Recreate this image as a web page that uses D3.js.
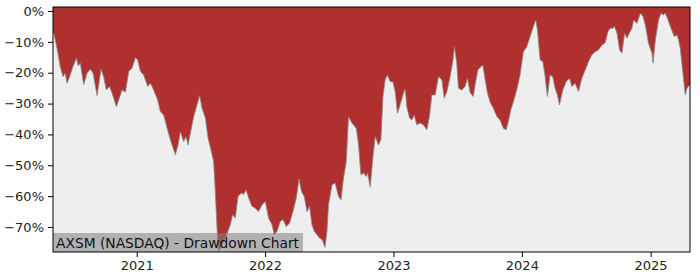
<!DOCTYPE html>
<html>
<head>
<meta charset="utf-8">
<script src="https://cdn.jsdelivr.net/npm/d3@7"></script>
<style>
  body { margin: 0; background: #fff; }
  svg text { font-family: "DejaVu Sans", sans-serif; }
</style>
</head>
<body>
<div id="chart"></div>
<script>
// drawdown readings (decimal year, percent below peak)
var years = [2020.356, 2020.381, 2020.406, 2020.427, 2020.445, 2020.458, 2020.479, 2020.505, 2020.531, 2020.546,
  2020.562, 2020.588, 2020.614, 2020.640, 2020.661, 2020.692, 2020.723, 2020.743, 2020.764, 2020.790,
  2020.817, 2020.842, 2020.860, 2020.886, 2020.912, 2020.938, 2020.964, 2020.990, 2021.008, 2021.029,
  2021.054, 2021.086, 2021.107, 2021.132, 2021.163, 2021.184, 2021.210, 2021.237, 2021.262, 2021.301,
  2021.322, 2021.340, 2021.366, 2021.384, 2021.400, 2021.418, 2021.444, 2021.470, 2021.490, 2021.509,
  2021.535, 2021.556, 2021.581, 2021.599, 2021.612, 2021.628, 2021.638, 2021.665, 2021.690, 2021.729,
  2021.747, 2021.768, 2021.789, 2021.815, 2021.833, 2021.851, 2021.872, 2021.898, 2021.924, 2021.949,
  2021.976, 2022.002, 2022.027, 2022.054, 2022.072, 2022.093, 2022.118, 2022.139, 2022.165, 2022.191,
  2022.217, 2022.243, 2022.264, 2022.284, 2022.305, 2022.326, 2022.346, 2022.365, 2022.383, 2022.404,
  2022.424, 2022.445, 2022.466, 2022.482, 2022.494, 2022.521, 2022.546, 2022.572, 2022.591, 2022.611,
  2022.632, 2022.650, 2022.676, 2022.710, 2022.728, 2022.746, 2022.767, 2022.788, 2022.798, 2022.819,
  2022.840, 2022.858, 2022.883, 2022.902, 2022.918, 2022.935, 2022.953, 2022.974, 2022.995, 2023.013,
  2023.031, 2023.052, 2023.078, 2023.091, 2023.104, 2023.125, 2023.143, 2023.161, 2023.182, 2023.208,
  2023.233, 2023.260, 2023.280, 2023.299, 2023.325, 2023.350, 2023.377, 2023.395, 2023.416, 2023.441,
  2023.462, 2023.475, 2023.493, 2023.506, 2023.532, 2023.558, 2023.576, 2023.597, 2023.621, 2023.636,
  2023.657, 2023.680, 2023.696, 2023.714, 2023.732, 2023.753, 2023.778, 2023.805, 2023.830, 2023.856,
  2023.877, 2023.895, 2023.914, 2023.934, 2023.960, 2023.986, 2024.012, 2024.038, 2024.064, 2024.089,
  2024.108, 2024.121, 2024.142, 2024.163, 2024.181, 2024.198, 2024.219, 2024.240, 2024.258, 2024.276,
  2024.292, 2024.318, 2024.344, 2024.370, 2024.388, 2024.414, 2024.440, 2024.466, 2024.492, 2024.518,
  2024.544, 2024.570, 2024.595, 2024.622, 2024.647, 2024.668, 2024.686, 2024.707, 2024.718, 2024.739,
  2024.759, 2024.777, 2024.798, 2024.816, 2024.834, 2024.855, 2024.868, 2024.894, 2024.920, 2024.941,
  2024.959, 2024.984, 2025.011, 2025.019, 2025.037, 2025.062, 2025.081, 2025.097, 2025.114, 2025.132,
  2025.159, 2025.184, 2025.205, 2025.218, 2025.231, 2025.252, 2025.270, 2025.283, 2025.305];

var drawdown = [-7.1, -12.1, -18.0, -21.3, -20.1, -23.4, -21.3, -18.0, -15.3, -17.7,
  -16.9, -23.9, -20.2, -18.8, -20.2, -27.4, -18.8, -21.3, -25.6, -24.5,
  -27.7, -31.0, -28.8, -25.6, -26.3, -19.6, -18.5, -15.1, -15.9, -19.6,
  -20.7, -24.5, -23.4, -25.6, -28.8, -32.6, -33.7, -38.0, -41.7, -46.6,
  -43.4, -39.1, -42.3, -40.7, -43.4, -39.6, -34.2, -30.4, -27.4, -31.5,
  -34.7, -41.2, -45.5, -48.8, -58.5, -72.5, -77.9, -75.7, -73.6, -69.3,
  -66.0, -67.1, -60.1, -59.0, -59.5, -57.9, -60.6, -63.3, -63.9, -65.0,
  -62.8, -61.7, -67.1, -69.3, -72.5, -71.4, -68.2, -67.6, -69.8, -68.7,
  -65.0, -60.6, -54.4, -58.5, -60.1, -65.0, -63.3, -69.3, -71.4, -72.5,
  -73.6, -74.1, -76.6, -71.4, -62.8, -56.3, -55.8, -60.1, -61.2, -54.1,
  -48.8, -34.2, -36.3, -38.0, -43.4, -53.1, -52.5, -53.6, -52.5, -57.1,
  -47.2, -40.7, -43.4, -41.7, -27.7, -22.3, -20.7, -22.9, -22.9, -26.1,
  -33.1, -30.4, -26.6, -25.3, -31.0, -34.7, -35.3, -33.7, -36.9, -36.3,
  -36.9, -38.5, -34.2, -27.2, -27.2, -21.3, -22.3, -28.3, -26.1, -21.3,
  -16.4, -11.6, -16.9, -25.0, -25.6, -24.4, -21.8, -26.4, -27.7, -23.9,
  -19.1, -18.1, -17.5, -22.3, -26.6, -29.6, -31.5, -34.2, -35.3, -38.0,
  -38.5, -35.8, -32.0, -29.4, -25.6, -20.7, -13.2, -11.6, -8.3, -5.1,
  -2.9, -6.1, -15.9, -16.4, -21.3, -27.7, -20.7, -21.3, -25.0, -27.2,
  -30.4, -25.6, -22.9, -21.8, -24.5, -23.4, -26.1, -21.8, -19.1, -16.4,
  -14.2, -13.2, -12.6, -11.0, -10.3, -6.7, -5.6, -5.6, -4.9, -7.2,
  -12.6, -13.7, -7.2, -8.8, -7.2, -5.6, -2.9, -4.0, -0.7, -1.8,
  -4.5, -10.5, -13.7, -16.9, -9.4, -2.9, -0.7, -1.3, -0.7, -2.4,
  -5.6, -8.3, -7.8, -9.4, -12.1, -20.2, -27.2, -25.0, -23.9];

var yTicks = [0, -10, -20, -30, -40, -50, -60, -70];
var xTickYears = [2021, 2022, 2023, 2024, 2025];
var title = "AXSM (NASDAQ) - Drawdown Chart";

function yearToDate(y) {
  var yr = Math.floor(y);
  var start = Date.UTC(yr, 0, 1), end = Date.UTC(yr + 1, 0, 1);
  return new Date(start + (y - yr) * (end - start));
}

var data = years.map(function(y, i) { return {date: yearToDate(y), value: drawdown[i]}; });

var margin = {top: 7, right: 10, bottom: 28, left: 53},
    width = 690 - margin.left,
    height = 252 - margin.top;

var svg = d3.select("#chart")
  .append("svg")
    .attr("width", 700)
    .attr("height", 280)
  .append("g")
    .attr("transform", "translate(" + margin.left + "," + margin.top + ")");

var x = d3.scaleUtc()
    .domain([new Date(Date.UTC(2020, 4, 8)), new Date(Date.UTC(2025, 3, 23))])
    .range([0, width]);

var y = d3.scaleLinear()
    .domain([-78.1, 1.3])
    .range([height, 0]);

// background is the "below the curve" colour, the red fills from the top down to the curve
svg.append("rect")
    .attr("width", width)
    .attr("height", height)
    .style("fill", "#eeeeee");

var area = d3.area()
    .x(function(d) { return x(d.date); })
    .y0(0)
    .y1(function(d) { return y(d.value); });

svg.append("path")
    .datum([{date: x.domain()[0], value: drawdown[0]}].concat(data, [{date: x.domain()[1], value: drawdown[drawdown.length - 1]}]))
    .attr("d", area)
    .style("fill", "#b03030");

svg.append("path")
    .datum(data)
    .attr("d", d3.line().x(function(d) { return x(d.date); }).y(function(d) { return y(d.value); }))
    .style("fill", "none")
    .style("stroke", "#888888")
    .style("stroke-width", 0.8);

// title box
var label = svg.append("g");
label.append("rect")
    .attr("x", 0)
    .attr("y", height - 19)
    .attr("width", 250)
    .attr("height", 19)
    .style("fill", "rgba(128,128,128,0.55)");
label.append("text")
    .attr("x", 3)
    .attr("y", height - 4.5)
    .text(title)
    .style("font-size", "13.8px")
    .style("fill", "#111");

// axes
var yAxis = svg.append("g")
    .call(d3.axisLeft(y).tickValues(yTicks).tickSize(5).tickPadding(4)
      .tickFormat(function(d) { return (d < 0 ? "\u2212" + (-d) : d) + "%"; }));
var xAxis = svg.append("g")
    .attr("transform", "translate(0," + height + ")")
    .call(d3.axisBottom(x)
      .tickValues(xTickYears.map(function(yr) { return new Date(Date.UTC(yr, 0, 1)); }))
      .tickSize(5).tickPadding(4)
      .tickFormat(d3.utcFormat("%Y")));

[yAxis, xAxis].forEach(function(a) {
  a.select(".domain").remove();
  a.selectAll("text").style("font-size", "13px").style("fill", "#222").attr("font-family", "DejaVu Sans");
  a.selectAll("line").style("stroke", "#000");
});

svg.append("rect")
    .attr("width", width)
    .attr("height", height)
    .style("fill", "none")
    .style("stroke", "#000")
    .style("stroke-width", 1);
</script>
</body>
</html>
